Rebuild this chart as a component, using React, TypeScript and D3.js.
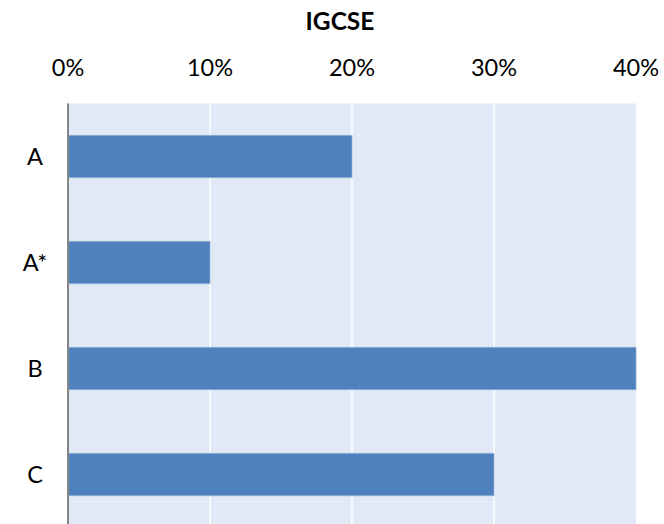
import { useEffect, useRef } from 'react';
import * as d3 from 'd3';

// Chart data
const categories = ['A', 'A*', 'B', 'C'];
const shares = [0.2, 0.1, 0.4, 0.3];
const tickValues = [0, 0.1, 0.2, 0.3, 0.4];
const title = 'IGCSE';

const W = 664;
const H = 524;

export default function App() {
  const svgRef = useRef<SVGSVGElement>(null);

  useEffect(() => {
    if (!svgRef.current) return;
    const svg = d3.select(svgRef.current);
    svg.selectAll('*').remove();

    const margin = { top: 103.5, right: 28, bottom: -3.5, left: 68 };
    const w = W - margin.left - margin.right;
    const h = H - margin.top - margin.bottom;
    const font = 'Lato, "Open Sans", sans-serif';

    const x = d3.scaleLinear().domain([0, 0.4]).range([0, w]);
    const y = d3.scaleBand<string>().domain(categories).range([0, h]).paddingInner(0.6).paddingOuter(0.3);

    // faint dotted background pattern
    const defs = svg.append('defs');
    const pat = defs.append('pattern')
      .attr('id', 'dots')
      .attr('width', 4)
      .attr('height', 4)
      .attr('patternUnits', 'userSpaceOnUse');
    pat.append('rect').attr('width', 4).attr('height', 4).attr('fill', '#e0e9f5');
    pat.append('rect').attr('x', 0).attr('y', 0).attr('width', 1).attr('height', 1).attr('fill', '#d9e3f0');
    pat.append('rect').attr('x', 2).attr('y', 2).attr('width', 1).attr('height', 1).attr('fill', '#e6eef8');

    const g = svg.append('g').attr('transform', `translate(${margin.left},${margin.top})`);

    g.append('rect')
      .attr('width', w)
      .attr('height', h)
      .attr('fill', 'url(#dots)');

    // gridlines
    g.selectAll('.grid')
      .data(tickValues.slice(1, -1))
      .enter()
      .append('line')
      .attr('x1', (d) => x(d))
      .attr('x2', (d) => x(d))
      .attr('y1', 0)
      .attr('y2', h)
      .attr('stroke', '#ffffff')
      .attr('stroke-width', 1.5);

    // bars
    g.selectAll('.bar')
      .data(categories)
      .enter()
      .append('rect')
      .attr('x', 0)
      .attr('y', (d) => y(d) as number)
      .attr('width', (d, i) => x(shares[i]))
      .attr('height', y.bandwidth())
      .attr('fill', '#4f81bd')
      .attr('stroke', '#8eaed6')
      .attr('stroke-width', 0.8);

    // left axis line
    g.append('line')
      .attr('x1', 0)
      .attr('x2', 0)
      .attr('y1', 0)
      .attr('y2', h)
      .attr('stroke', '#868686')
      .attr('stroke-width', 2);

    // top tick labels
    g.selectAll('.tick-label')
      .data(tickValues)
      .enter()
      .append('text')
      .attr('x', (d) => x(d))
      .attr('y', -27.5)
      .attr('text-anchor', 'middle')
      .attr('font-family', font)
      .attr('font-size', 23.5)
      .attr('fill', '#000')
      .text((d) => d3.format('.0%')(d));

    // category labels
    g.selectAll('.cat-label')
      .data(categories)
      .enter()
      .append('text')
      .attr('x', -33)
      .attr('y', (d) => (y(d) as number) + y.bandwidth() / 2)
      .attr('dy', '0.35em')
      .attr('text-anchor', 'middle')
      .attr('font-family', font)
      .attr('font-size', 23.5)
      .attr('fill', '#000')
      .text((d) => d);

    svg.append('text')
      .attr('x', 340)
      .attr('y', 29.5)
      .attr('text-anchor', 'middle')
      .attr('font-family', font)
      .attr('font-weight', 'bold')
      .attr('font-size', 24.5)
      .attr('fill', '#000')
      .text(title);
  }, []);

  return (
    <svg
      ref={svgRef}
      width={W}
      height={H}
      style={{ position: 'absolute', left: 0, top: 0, display: 'block', background: '#fff' }}
    />
  );
}
